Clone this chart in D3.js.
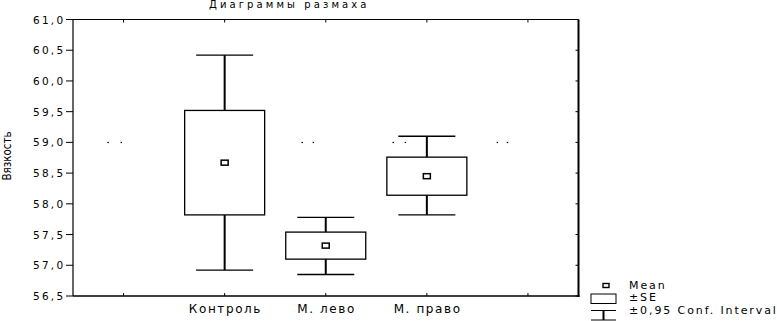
<!DOCTYPE html>
<html>
<head>
<meta charset="utf-8">
<script src="https://cdn.jsdelivr.net/npm/d3@7"></script>
<style>
  body { margin: 0; background: #fff; }
  text { font-family: "DejaVu Sans", Arial, sans-serif; fill: #000; }
</style>
</head>
<body>
<svg id="chart" width="777" height="321"></svg>
<script>
// categories (outer two slots are empty, like in the original)
let categories = ["", "Контроль", "М. лево", "М. право", " "];
let groups = ["Контроль", "М. лево", "М. право"];
// mean, +-SE, +-0.95 conf. interval
let means  = [58.67, 57.32, 58.45];
let seLow  = [57.82, 57.10, 58.14];
let seHigh = [59.52, 57.54, 58.76];
let ciLow  = [56.92, 56.85, 57.82];
let ciHigh = [60.42, 57.78, 59.10];
let yTicks = [56.5, 57.0, 57.5, 58.0, 58.5, 59.0, 59.5, 60.0, 60.5, 61.0];
// stray dots on the 59.0 level (x in category index units)
let dotX = [-0.16, -0.03, 1.76, 1.87, 2.66, 2.78, 3.69, 3.79];
let dotY = 59.0;

let svg = d3.select("#chart");
let pLeft = 73, pRight = 578.5, pTop = 19.5, pBottom = 296;

let xBand = d3.scaleBand().domain(categories).range([pLeft, pRight]);
let xIdx = d3.scaleLinear().domain([-0.5, 4.5]).range([pLeft, pRight]);
let yMap = d3.scaleLinear().domain([56.5, 61]).range([pBottom, pTop]);
let fmt = d => d.toFixed(1).replace(".", ",");
let cx = c => xBand(c) + xBand.bandwidth() / 2;

// title
svg.append("text")
    .attr("x", 209).attr("y", 8)
    .style("font-size", "10px")
    .style("letter-spacing", "3.1px")
    .text("Диаграммы размаха");

// y label
svg.append("text")
    .attr("transform", "translate(11,156) rotate(-90)")
    .attr("text-anchor", "middle")
    .style("font-family", "'DejaVu Sans Condensed', 'DejaVu Sans', sans-serif")
    .style("font-size", "11.5px")
    .text("Вязкость");

// frame
let frame = svg.append("g");
frame.append("line").attr("x1", pLeft).attr("x2", pRight).attr("y1", pTop).attr("y2", pTop)
    .attr("stroke", "#000").attr("stroke-width", 1);
frame.append("line").attr("x1", pLeft).attr("x2", pLeft).attr("y1", pTop).attr("y2", pBottom)
    .attr("stroke", "#000").attr("stroke-width", 1.2);
frame.append("line").attr("x1", pRight).attr("x2", pRight).attr("y1", pTop).attr("y2", pBottom + 1)
    .attr("stroke", "#000").attr("stroke-width", 2);
frame.append("line").attr("x1", pLeft).attr("x2", pRight + 1).attr("y1", pBottom).attr("y2", pBottom)
    .attr("stroke", "#000").attr("stroke-width", 1.6);

// y ticks left (outward) + labels
let yAxis = svg.append("g");
yAxis.selectAll("line.l").data(yTicks).enter().append("line")
    .attr("x1", pLeft - 7).attr("x2", pLeft)
    .attr("y1", d => yMap(d)).attr("y2", d => yMap(d))
    .attr("stroke", "#000").attr("stroke-width", 1);
yAxis.selectAll("line.r").data(yTicks).enter().append("line")
    .attr("x1", pRight - 3).attr("x2", pRight)
    .attr("y1", d => yMap(d)).attr("y2", d => yMap(d))
    .attr("stroke", "#000").attr("stroke-width", 1);
yAxis.selectAll("text").data(yTicks).enter().append("text")
    .attr("x", 65.5).attr("y", d => yMap(d) + 4)
    .attr("text-anchor", "end")
    .style("font-size", "10.5px")
    .style("letter-spacing", "2.3px")
    .text(fmt);

// x ticks (top and bottom, inward)
let xAxis = svg.append("g");
xAxis.selectAll("line.b").data(categories).enter().append("line")
    .attr("x1", cx).attr("x2", cx).attr("y1", pBottom - 3).attr("y2", pBottom)
    .attr("stroke", "#000");
xAxis.selectAll("line.t").data(categories).enter().append("line")
    .attr("x1", cx).attr("x2", cx).attr("y1", pTop).attr("y2", pTop + 3)
    .attr("stroke", "#000");
xAxis.selectAll("text").data(categories).enter().append("text")
    .attr("x", d => cx(d) + 0.8).attr("y", 313)
    .attr("text-anchor", "middle")
    .style("font-size", "12px")
    .style("letter-spacing", "1.6px")
    .text(d => d);

// stray dots
svg.selectAll("rect.dot").data(dotX).enter().append("rect")
    .attr("x", d => xIdx(d)).attr("y", yMap(dotY) - 0.5)
    .attr("width", 1.5).attr("height", 1.2).attr("fill", "#000");

// boxes
let boxW = 80, capW = 57;
let g = svg.append("g").selectAll("g").data(groups).enter().append("g");
g.each(function(d, i) {
    let s = d3.select(this), c = cx(d);
    s.append("line").attr("x1", c).attr("x2", c)
        .attr("y1", yMap(ciHigh[i])).attr("y2", yMap(seHigh[i]))
        .attr("stroke", "#000").attr("stroke-width", 2);
    s.append("line").attr("x1", c).attr("x2", c)
        .attr("y1", yMap(seLow[i])).attr("y2", yMap(ciLow[i]))
        .attr("stroke", "#000").attr("stroke-width", 2);
    s.append("line").attr("x1", c - capW / 2).attr("x2", c + capW / 2)
        .attr("y1", yMap(ciHigh[i])).attr("y2", yMap(ciHigh[i]))
        .attr("stroke", "#000").attr("stroke-width", 1.3);
    s.append("line").attr("x1", c - capW / 2).attr("x2", c + capW / 2)
        .attr("y1", yMap(ciLow[i])).attr("y2", yMap(ciLow[i]))
        .attr("stroke", "#000").attr("stroke-width", 1.3);
    s.append("rect").attr("x", c - boxW / 2).attr("width", boxW)
        .attr("y", yMap(seHigh[i])).attr("height", yMap(seLow[i]) - yMap(seHigh[i]))
        .attr("fill", "#fff").attr("stroke", "#000").attr("stroke-width", 1.3);
    s.append("rect").attr("x", c - 3.5).attr("width", 7)
        .attr("y", yMap(means[i]) - 2.5).attr("height", 5)
        .attr("fill", "#fff").attr("stroke", "#000").attr("stroke-width", 1.5);
});

// legend
let lg = svg.append("g");
lg.append("rect").attr("x", 603).attr("y", 283.5).attr("width", 6).attr("height", 4)
    .attr("fill", "#fff").attr("stroke", "#000").attr("stroke-width", 1.4);
lg.append("rect").attr("x", 591).attr("y", 294).attr("width", 25).attr("height", 9.5)
    .attr("fill", "#fff").attr("stroke", "#000").attr("stroke-width", 1);
lg.append("line").attr("x1", 591).attr("x2", 616).attr("y1", 310.5).attr("y2", 310.5)
    .attr("stroke", "#000").attr("stroke-width", 1);
lg.append("line").attr("x1", 603.5).attr("x2", 603.5).attr("y1", 310.5).attr("y2", 320)
    .attr("stroke", "#000").attr("stroke-width", 2);
lg.append("line").attr("x1", 591).attr("x2", 616).attr("y1", 320).attr("y2", 320)
    .attr("stroke", "#000").attr("stroke-width", 1);
let legendText = ["Mean", "±SE", "±0,95 Conf. Interval"];
let legendY = [289, 301, 314];
lg.selectAll("text").data(legendText).enter().append("text")
    .attr("x", 629).attr("y", (d, i) => legendY[i])
    .style("font-size", "11px")
    .style("letter-spacing", "1.9px")
    .text(d => d);
</script>
</body>
</html>
